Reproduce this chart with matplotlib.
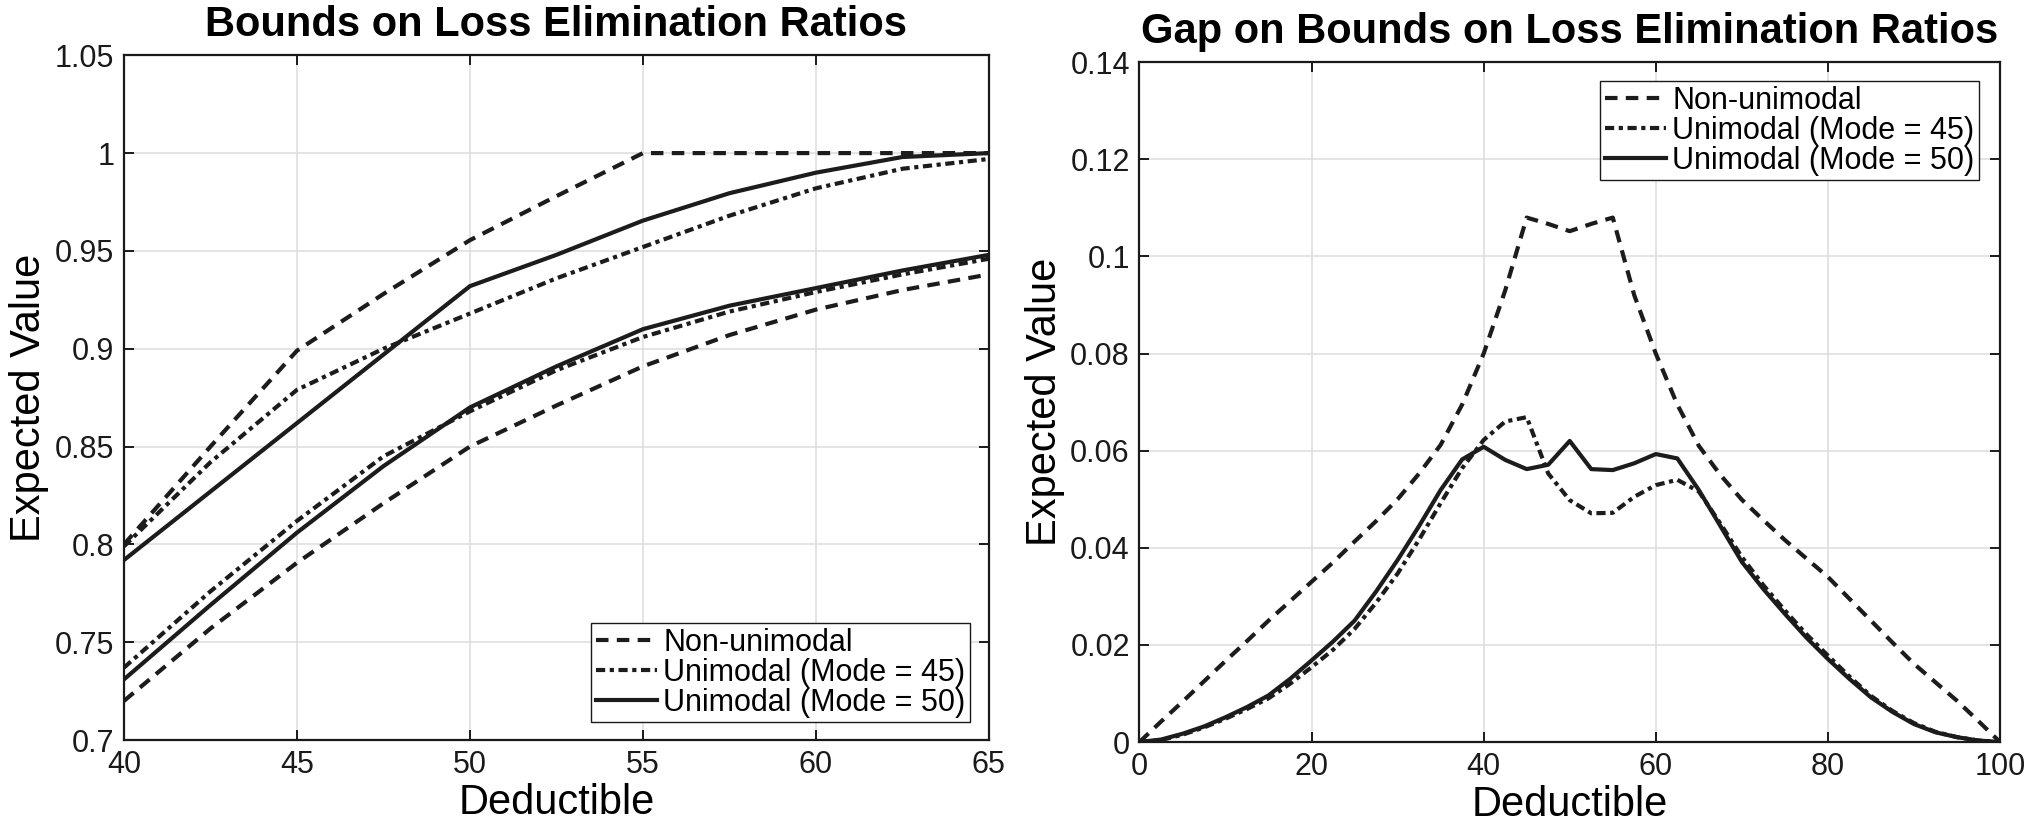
import matplotlib
matplotlib.use('Agg')
import matplotlib.pyplot as plt
import numpy as np

plt.rcParams['font.family'] = ['Liberation Sans', 'DejaVu Sans']

# ---- left panel: bounds on loss elimination ratios ----
ded_left = [40, 42.5, 45, 47.5, 50, 52.5, 55, 57.5, 60, 62.5, 65]

nonuni_upper = [0.800, 0.850, 0.899, 0.928, 0.9555, 0.978, 1.000, 1.000, 1.000, 1.000, 1.000]
nonuni_lower = [0.720, 0.757, 0.7906, 0.821, 0.850, 0.871, 0.891, 0.907, 0.920, 0.930, 0.938]
mode45_upper = [0.799, 0.842, 0.879, 0.900, 0.918, 0.936, 0.952, 0.968, 0.982, 0.992, 0.997]
mode45_lower = [0.737, 0.776, 0.812, 0.845, 0.868, 0.889, 0.906, 0.919, 0.929, 0.938, 0.946]
mode50_upper = [0.792, 0.827, 0.862, 0.897, 0.932, 0.948, 0.9655, 0.9795, 0.990, 0.998, 1.000]
mode50_lower = [0.731, 0.769, 0.806, 0.840, 0.870, 0.891, 0.910, 0.922, 0.931, 0.940, 0.948]

xticks_left = [40, 45, 50, 55, 60, 65]
yticks_left = [0.7, 0.75, 0.8, 0.85, 0.9, 0.95, 1.0, 1.05]
ylabels_left = ['0.7', '0.75', '0.8', '0.85', '0.9', '0.95', '1', '1.05']

# ---- right panel: gap (upper - lower) ----
ded_right = [0, 2.5, 5, 7.5, 10, 12.5, 15, 17.5, 20, 22.5, 25, 27.5, 30, 32.5, 35, 37.5,
             40, 42.5, 45, 47.5, 50, 52.5, 55, 57.5, 60, 62.5, 65, 67.5, 70, 72.5, 75,
             77.5, 80, 82.5, 85, 87.5, 90, 92.5, 95, 97.5, 100]

gap_nonuni = [0, 0.0042, 0.0083, 0.0125, 0.0167, 0.0208, 0.025, 0.029, 0.033, 0.037, 0.0413,
              0.0455, 0.0500, 0.0553, 0.0612, 0.0695, 0.080, 0.093, 0.108, 0.1067, 0.1052,
              0.1067, 0.108, 0.092, 0.080, 0.0695, 0.061, 0.055, 0.0499, 0.0457, 0.0416,
              0.0378, 0.034, 0.0295, 0.025, 0.0205, 0.0161, 0.0123, 0.0085, 0.0043, 0.0]
gap_mode45 = [0, 0.0004, 0.0015, 0.003, 0.0048, 0.0068, 0.009, 0.012, 0.0154, 0.019, 0.0233,
              0.0287, 0.0347, 0.0417, 0.0492, 0.0564, 0.0622, 0.066, 0.0669, 0.0553, 0.0498,
              0.0471, 0.0472, 0.0505, 0.0529, 0.054, 0.0516, 0.045, 0.0381, 0.0323, 0.0271,
              0.0222, 0.0178, 0.0135, 0.0095, 0.0064, 0.0039, 0.0021, 0.001, 0.0003, 0]
gap_mode50 = [0, 0.0005, 0.0017, 0.0032, 0.0051, 0.0072, 0.0096, 0.013, 0.0168, 0.0207, 0.025,
              0.031, 0.0375, 0.0445, 0.0519, 0.0582, 0.0608, 0.0581, 0.0562, 0.0571, 0.062,
              0.0562, 0.056, 0.0574, 0.0593, 0.0584, 0.0519, 0.0445, 0.0371, 0.0315, 0.0264,
              0.0215, 0.0171, 0.013, 0.0092, 0.0062, 0.0037, 0.002, 0.001, 0.0003, 0]

xticks_right = [0, 20, 40, 60, 80, 100]
yticks_right = [0, 0.02, 0.04, 0.06, 0.08, 0.1, 0.12, 0.14]
ylabels_right = ['0', '0.02', '0.04', '0.06', '0.08', '0.1', '0.12', '0.14']

names = ['Non-unimodal', 'Unimodal (Mode = 45)', 'Unimodal (Mode = 50)']

col = '#1c1c1c'
lw = 3.0
dash = (0, (3, 2))
dashdot = (0, (2.2, 1.1, 1.0, 1.1))
solid = '-'


def style_axes(ax, xlim, ylim, xt, yt, ylab):
    ax.set_xlim(xlim)
    ax.set_ylim(ylim)
    ax.set_xticks(xt)
    ax.set_xticklabels([str(v) for v in xt])
    ax.set_yticks(yt)
    ax.set_yticklabels(ylab)
    ax.grid(True, color='#dcdcdc', linewidth=1.1)
    ax.set_axisbelow(True)
    ax.tick_params(direction='in', length=7, width=1.4, top=True, right=True,
                   labelsize=22, pad=7, colors='#1a1a1a')
    for s in ax.spines.values():
        s.set_linewidth(1.6)
        s.set_color('#1a1a1a')
    ax.set_xlabel('Deductible', fontsize=30, labelpad=2)
    ax.set_ylabel('Expected Value', fontsize=30, labelpad=4)


def add_legend(ax, handles, loc, anchor):
    leg = ax.legend(handles, names, loc=loc, bbox_to_anchor=anchor, borderaxespad=0,
                    fontsize=22, handlelength=2.0, handletextpad=0.2, labelspacing=0.0,
                    borderpad=0.15, fancybox=False, framealpha=1, edgecolor='#1a1a1a')
    leg.get_frame().set_linewidth(1.0)
    return leg


fig = plt.figure(figsize=(20.29, 8.25), dpi=100)
ax1 = fig.add_axes([0.0611, 0.103, 0.4263, 0.830])
ax2 = fig.add_axes([0.5616, 0.1006, 0.4241, 0.824])

# left
l1, = ax1.plot(ded_left, nonuni_upper, color=col, lw=lw, linestyle=dash)
ax1.plot(ded_left, nonuni_lower, color=col, lw=lw, linestyle=dash)
l2, = ax1.plot(ded_left, mode45_upper, color=col, lw=lw, linestyle=dashdot)
ax1.plot(ded_left, mode45_lower, color=col, lw=lw, linestyle=dashdot)
l3, = ax1.plot(ded_left, mode50_upper, color=col, lw=lw, linestyle=solid)
ax1.plot(ded_left, mode50_lower, color=col, lw=lw, linestyle=solid)
style_axes(ax1, (40, 65), (0.7, 1.05), xticks_left, yticks_left, ylabels_left)
ax1.set_title('Bounds on Loss Elimination Ratios', fontsize=30, fontweight='bold', pad=14)
add_legend(ax1, [l1, l2, l3], 'lower right', (0.978, 0.026))

# right
r1, = ax2.plot(ded_right, gap_nonuni, color=col, lw=lw, linestyle=dash)
r2, = ax2.plot(ded_right, gap_mode45, color=col, lw=lw, linestyle=dashdot)
r3, = ax2.plot(ded_right, gap_mode50, color=col, lw=lw, linestyle=solid)
style_axes(ax2, (0, 100), (0, 0.14), xticks_right, yticks_right, ylabels_right)
ax2.set_title('Gap on Bounds on Loss Elimination Ratios', fontsize=30, fontweight='bold', pad=14)
add_legend(ax2, [r1, r2, r3], 'upper right', (0.9756, 0.972))

fig.savefig('out.png', dpi=100)
